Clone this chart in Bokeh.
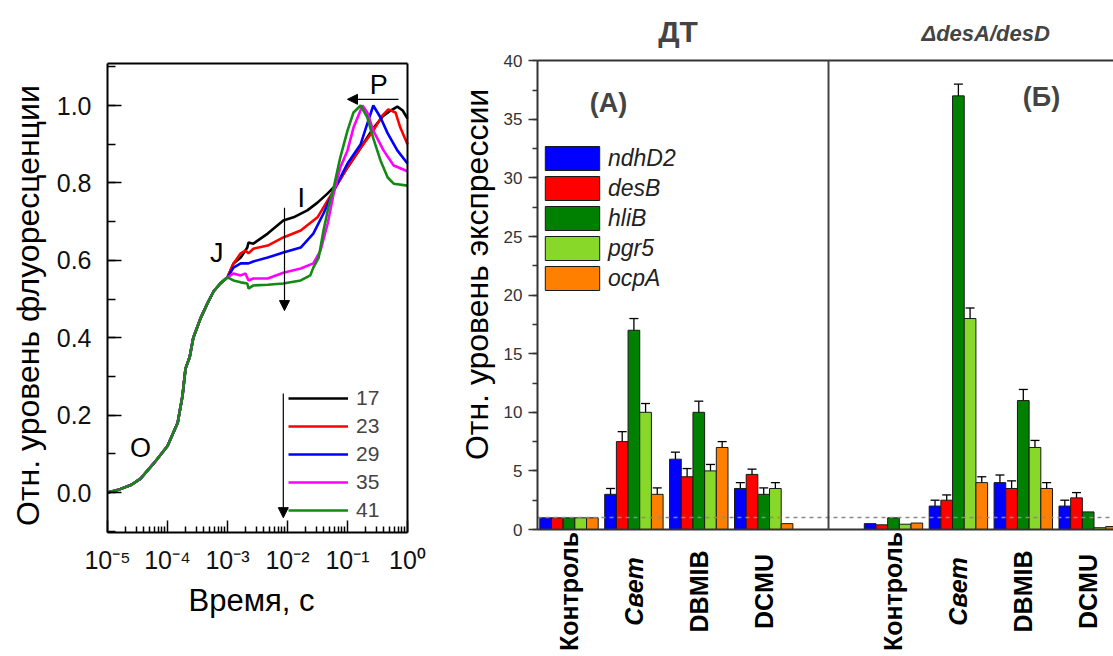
import math
from bokeh.plotting import figure
from bokeh.layouts import row
from bokeh.models import (Range1d, FixedTicker, SingleIntervalTicker, CustomJSTickFormatter,
                          PrintfTickFormatter, Legend, LegendItem, Label, Arrow, NormalHead,
                          Whisker, TeeHead, ColumnDataSource, LinearAxis, LogAxis)
from bokeh.embed import file_html
from bokeh.resources import INLINE

FONT = "Liberation Sans"

# ---------------- OJIP fluorescence curves (time as log10 seconds) ----------------
early_logt = [-5.0, -4.8, -4.6, -4.45, -4.23, -4.0, -3.83, -3.75, -3.7, -3.63, -3.57, -3.45, -3.33, -3.23, -3.12, -3.0]
early_val = [0.0, 0.008, 0.02, 0.036, 0.075, 0.12, 0.18, 0.25, 0.32, 0.35, 0.40, 0.45, 0.49, 0.52, 0.54, 0.556]

logt_17 = [-2.9, -2.78, -2.67, -2.65, -2.57, -2.33, -2.07, -1.9, -1.67, -1.5, -1.33, -1.17, -1.0, -0.78, -0.57, -0.4, -0.28, -0.17, -0.08, 0.0]
val_17 = [0.592, 0.607, 0.633, 0.646, 0.643, 0.669, 0.703, 0.711, 0.729, 0.749, 0.773, 0.798, 0.84, 0.891, 0.941, 0.974, 0.987, 0.997, 0.987, 0.966]

logt_23 = [-2.9, -2.78, -2.7, -2.65, -2.57, -2.33, -2.07, -1.78, -1.5, -1.33, -1.23, -1.0, -0.78, -0.57, -0.42, -0.32, -0.2, -0.12, 0.0]
val_23 = [0.592, 0.618, 0.625, 0.618, 0.63, 0.638, 0.659, 0.677, 0.711, 0.755, 0.78, 0.84, 0.891, 0.935, 0.974, 0.99, 0.982, 0.943, 0.90]

logt_29 = [-2.9, -2.78, -2.65, -2.57, -2.33, -2.07, -1.78, -1.57, -1.4, -1.23, -1.0, -0.78, -0.67, -0.57, -0.45, -0.33, -0.17, 0.0]
val_29 = [0.581, 0.592, 0.592, 0.597, 0.607, 0.62, 0.633, 0.669, 0.721, 0.78, 0.85, 0.90, 0.953, 1.0, 0.969, 0.928, 0.884, 0.85]

logt_35 = [-2.9, -2.78, -2.7, -2.65, -2.57, -2.33, -2.07, -1.78, -1.57, -1.45, -1.33, -1.23, -1.12, -1.0, -0.9, -0.75, -0.67, -0.57, -0.4, -0.23, 0.0]
val_35 = [0.566, 0.561, 0.566, 0.548, 0.553, 0.553, 0.568, 0.579, 0.592, 0.625, 0.695, 0.773, 0.84, 0.884, 0.943, 1.0, 0.982, 0.935, 0.884, 0.845, 0.83]

logt_41 = [-2.9, -2.78, -2.67, -2.65, -2.62, -2.57, -2.33, -2.07, -1.78, -1.62, -1.57, -1.48, -1.4, -1.32, -1.23, -1.12, -1.0, -0.9, -0.78, -0.67, -0.57, -0.45, -0.33, -0.23, 0.0]
val_41 = [0.548, 0.543, 0.540, 0.527, 0.53, 0.535, 0.537, 0.54, 0.548, 0.561, 0.581, 0.607, 0.677, 0.736, 0.788, 0.866, 0.935, 0.982, 1.0, 0.969, 0.915, 0.858, 0.814, 0.798, 0.793]

temps = ["17", "23", "29", "35", "41"]
temp_colors = ["#000000", "#ff0000", "#0000ff", "#ff00ff", "#138a13"]
curve_logt = [logt_17, logt_23, logt_29, logt_35, logt_41]
curve_val = [val_17, val_23, val_29, val_35, val_41]

decade_exps = [-5, -4, -3, -2, -1, 0]

# ---------------- qPCR expression bars ----------------
categories = ["Контроль", "Свет", "DBMIB", "DCMU"]
genes = ["ndhD2", "desB", "hliB", "pgr5", "ocpA"]
gene_colors = ["#0000ff", "#ff0000", "#008000", "#88d82a", "#ff8000"]

# wild type (ДТ)
ndhD2_wt = [1.0, 3.0, 6.0, 3.5]
desB_wt = [1.0, 7.5, 4.5, 4.7]
hliB_wt = [1.0, 17.0, 10.0, 3.0]
pgr5_wt = [1.0, 10.0, 5.0, 3.5]
ocpA_wt = [1.0, 3.0, 7.0, 0.5]
ndhD2_wt_err = [0.0, 0.5, 0.6, 0.5]
desB_wt_err = [0.0, 0.85, 0.7, 0.45]
hliB_wt_err = [0.0, 1.0, 0.95, 0.55]
pgr5_wt_err = [0.0, 0.75, 0.55, 0.5]
ocpA_wt_err = [0.0, 0.55, 0.5, 0.0]

# mutant (ΔdesA/desD)
ndhD2_mut = [0.5, 2.0, 4.0, 2.0]
desB_mut = [0.4, 2.5, 3.5, 2.7]
hliB_mut = [1.0, 37.0, 11.0, 1.5]
pgr5_mut = [0.45, 18.0, 7.0, 0.15]
ocpA_mut = [0.55, 4.0, 3.5, 0.25]
ndhD2_mut_err = [0.0, 0.5, 0.65, 0.5]
desB_mut_err = [0.0, 0.45, 0.65, 0.45]
hliB_mut_err = [0.0, 1.0, 0.95, 0.0]
pgr5_mut_err = [0.0, 0.9, 0.6, 0.0]
ocpA_mut_err = [0.0, 0.5, 0.5, 0.0]

wt_vals = [ndhD2_wt, desB_wt, hliB_wt, pgr5_wt, ocpA_wt]
wt_errs = [ndhD2_wt_err, desB_wt_err, hliB_wt_err, pgr5_wt_err, ocpA_wt_err]
mut_vals = [ndhD2_mut, desB_mut, hliB_mut, pgr5_mut, ocpA_mut]
mut_errs = [ndhD2_mut_err, desB_mut_err, hliB_mut_err, pgr5_mut_err, ocpA_mut_err]


def plain_axis(cls, loc, bounds, color, width=2, dash="solid"):
    return cls(fixed_location=loc, bounds=bounds, ticker=FixedTicker(ticks=[]),
               major_label_text_font_size="0px", axis_line_color=color,
               axis_line_width=width, axis_line_dash=dash, major_tick_line_color=None,
               minor_tick_line_color=None, major_tick_out=0, minor_tick_out=0)


# ======================= LEFT: OJIP (frame spans the whole canvas) =======================
T0, T1 = 1e-5, 1.0
V0, V1 = -0.103, 1.108
p1 = figure(x_axis_type="log", x_range=Range1d(10 ** -6.78333, 10 ** 0.55),
            y_range=Range1d(-0.42377, 1.27132),
            frame_width=440, frame_height=656, min_border_left=0, min_border_right=0,
            min_border_top=0, min_border_bottom=0, x_axis_location=None, y_axis_location=None,
            output_backend="svg", toolbar_location=None,
            background_fill_color="white", border_fill_color="white")
p1.grid.visible = False
p1.outline_line_color = None

decades = [10.0 ** e for e in decade_exps]
minors = [m * 10.0 ** e for e in decade_exps[:-1] for m in range(2, 10)]
sup_formatter = CustomJSTickFormatter(code="""
const sup = {"-": "\\u207b", "0": "\\u2070", "1": "\\u00b9", "2": "\\u00b2", "3": "\\u00b3",
             "4": "\\u2074", "5": "\\u2075", "6": "\\u2076", "7": "\\u2077", "8": "\\u2078", "9": "\\u2079"};
const e = Math.round(Math.log10(tick));
return "10" + String(e).split("").map(c => sup[c]).join("");
""")

common = dict(axis_line_color="black", axis_line_width=2,
              major_tick_line_color="black", minor_tick_line_color="black",
              major_tick_line_width=1.5, minor_tick_line_width=1.5,
              major_tick_out=0, minor_tick_out=0,
              major_label_text_font=FONT, major_label_text_font_size="25px",
              major_label_text_color="#111111")
xax1 = LogAxis(fixed_location=V0, bounds=(T0, T1),
               ticker=FixedTicker(ticks=decades, minor_ticks=minors), formatter=sup_formatter,
               major_tick_in=12, minor_tick_in=6, major_label_standoff=14, **common)
yax1 = LinearAxis(fixed_location=T0, bounds=(V0, V1),
                  ticker=SingleIntervalTicker(interval=0.2, num_minor_ticks=2),
                  formatter=PrintfTickFormatter(format="%.1f"),
                  major_tick_in=14, minor_tick_in=8, major_label_standoff=16, **common)
p1.add_layout(xax1, "below")
p1.add_layout(yax1, "left")
p1.add_layout(plain_axis(LogAxis, V1, (T0, T1), "black"), "above")
p1.add_layout(plain_axis(LinearAxis, T1, (V0, V1), "black"), "right")

items = []
for name, col, lt, lv in zip(temps, temp_colors, curve_logt, curve_val):
    xs = [10.0 ** t for t in early_logt + lt]
    ys = early_val + lv
    r = p1.line(xs, ys, line_color=col, line_width=2.6)
    items.append(LegendItem(label=name, renderers=[r]))

leg1 = Legend(items=items, location=(288, 132), glyph_width=60, glyph_height=28, label_height=28,
              spacing=0, padding=0, margin=0, label_standoff=8, border_line_color=None,
              background_fill_alpha=0, label_text_font=FONT, label_text_font_size="21px")
p1.add_layout(leg1)

for txt, lx, ly in [("O", -4.45, 0.116), ("J", -3.18, 0.62), ("I", -1.77, 0.762), ("P", -0.48, 1.054)]:
    p1.add_layout(Label(x=10 ** lx, y=ly, text=txt, text_align="center", text_baseline="middle",
                        text_font=FONT, text_font_size="27px", text_color="black"))

for xs_, ys_, xe_, ye_ in [(-0.15, 1.016, -1.0, 1.016), (-2.05, 0.736, -2.05, 0.47),
                           (-2.07, 0.256, -2.07, -0.065)]:
    p1.add_layout(Arrow(end=NormalHead(size=10, fill_color="black", line_color="black"),
                        x_start=10 ** xs_, y_start=ys_, x_end=10 ** xe_, y_end=ye_,
                        line_color="black", line_width=1.2))

p1.add_layout(Label(x=10 ** -2.6, y=-0.279, text="Время, с", text_align="center",
                    text_baseline="middle", text_font=FONT, text_font_size="31px",
                    text_color="black"))
p1.add_layout(Label(x=10 ** -6.317, y=0.483, text="Отн. уровень флуоресценции",
                    angle=math.pi / 2, text_align="center", text_baseline="middle",
                    text_font=FONT, text_font_size="32px", text_color="black"))

# ======================= RIGHT: bars (frame covers the whole canvas) =======================
X_LEFT, X_RIGHT = -0.485, 8.39
p2 = figure(x_range=Range1d(-1.980, X_RIGHT), y_range=Range1d(-10.836, 45.137),
            frame_width=673, frame_height=656, min_border_left=0, min_border_right=0,
            min_border_top=0, min_border_bottom=0, x_axis_location=None, y_axis_location=None,
            output_backend="svg", toolbar_location=None,
            background_fill_color="white", border_fill_color="white")
p2.grid.visible = False
p2.outline_line_color = None

AX = "#333333"
yax = LinearAxis(fixed_location=X_LEFT, bounds=(0, 40),
                 ticker=SingleIntervalTicker(interval=5, num_minor_ticks=2),
                 axis_line_color=AX, axis_line_width=2,
                 major_tick_line_color=AX, minor_tick_line_color=AX,
                 major_tick_line_width=1.5, minor_tick_line_width=1.5,
                 major_tick_out=9, major_tick_in=0, minor_tick_out=5, minor_tick_in=0,
                 major_label_text_font=FONT, major_label_text_font_size="17px",
                 major_label_text_color="#333333", major_label_standoff=6)
p2.add_layout(yax, "left")
p2.add_layout(plain_axis(LinearAxis, 0, (X_LEFT, X_RIGHT), AX), "below")
p2.add_layout(plain_axis(LinearAxis, 40, (X_LEFT, X_RIGHT), AX), "above")

n_groups = len(categories)
panel_offsets = [0, n_groups + 1]
# divider between the two panels
p2.add_layout(plain_axis(LinearAxis, n_groups, (0, 40), "#444444"), "left")

bar_w = 0.18
gene_items = []
wb, wu, wl = [], [], []
for gi, (gname, gcol) in enumerate(zip(genes, gene_colors)):
    off = (gi - (len(genes) - 1) / 2) * bar_w
    xs, tops = [], []
    for po, vals, errs in ((panel_offsets[0], wt_vals[gi], wt_errs[gi]),
                           (panel_offsets[1], mut_vals[gi], mut_errs[gi])):
        for ci in range(n_groups):
            x = po + ci + off
            xs.append(x)
            tops.append(vals[ci])
            if errs[ci] > 0:
                wb.append(x)
                wu.append(vals[ci] + errs[ci])
                wl.append(vals[ci] - errs[ci])
    r = p2.vbar(x=xs, top=tops, bottom=0, width=bar_w, fill_color=gcol,
                line_color="#1a1a1a", line_width=1)
    gene_items.append(LegendItem(label=gname, renderers=[r]))

# reference level 1.0
p2.add_layout(plain_axis(LinearAxis, 1.0, (X_LEFT, X_RIGHT), "#8a8a8a", width=1.5, dash="4 4"), "below")

wsrc = ColumnDataSource(dict(base=wb, upper=wu, lower=wl))
p2.add_layout(Whisker(source=wsrc, base="base", upper="upper", lower="lower", dimension="height",
                      line_color="black", line_width=1.3,
                      upper_head=TeeHead(size=9, line_color="black", line_width=1.3),
                      lower_head=TeeHead(size=9, line_color="black", line_width=1.3)))

leg2 = Legend(items=gene_items, location=(98, 363), glyph_width=68, glyph_height=30, label_height=30,
              spacing=0, padding=0, margin=0, label_standoff=2, border_line_color=None,
              background_fill_alpha=0, label_text_font=FONT, label_text_font_size="23px",
              label_text_font_style="italic", label_text_color="#222222")
p2.add_layout(leg2)

for po in panel_offsets:
    for ci, cat in enumerate(categories):
        p2.add_layout(Label(x=po + ci, y=-5.29, text=cat, angle=math.pi / 2,
                            text_align="center", text_baseline="middle", text_font=FONT,
                            text_font_size="25px",
                            text_font_style="bold italic" if cat == "Свет" else "bold",
                            text_color="black"))

p2.add_layout(Label(x=-1.41, y=21.76, text="Отн. уровень экспрессии", angle=math.pi / 2,
                    text_align="center", text_baseline="middle", text_font=FONT,
                    text_font_size="32px", text_color="black"))
p2.add_layout(Label(x=1.68, y=42.49, text="ДТ", text_align="center", text_baseline="middle",
                    text_font=FONT, text_font_size="30px", text_font_style="bold"))
p2.add_layout(Label(x=6.42, y=42.3, text="ΔdesA/desD", text_align="center", text_baseline="middle",
                    text_font=FONT, text_font_size="22px", text_font_style="bold italic"))
p2.add_layout(Label(x=0.61, y=36.4, text="(А)", text_align="center", text_baseline="middle",
                    text_font=FONT, text_font_size="27px", text_font_style="bold"))
p2.add_layout(Label(x=7.28, y=36.9, text="(Б)", text_align="center", text_baseline="middle",
                    text_font=FONT, text_font_size="27px", text_font_style="bold"))

layout = row(p1, p2)
open("out.html", "w").write(file_html(layout, INLINE))
